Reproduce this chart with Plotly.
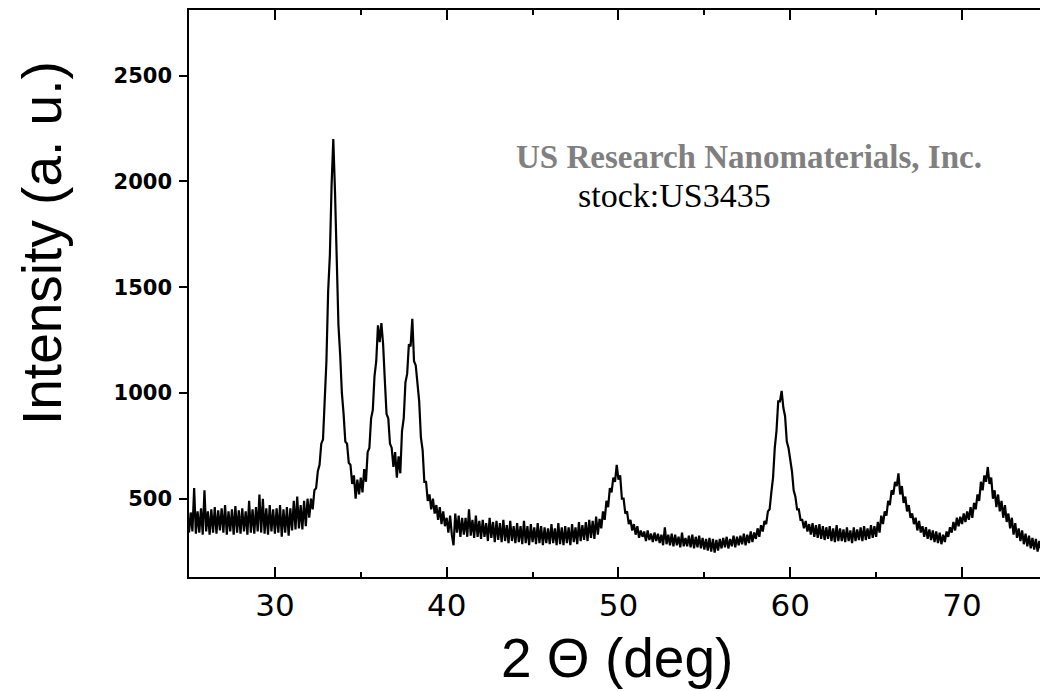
import plotly.graph_objects as go

# 2-theta sampling grid (degrees), 0.1 deg step from 25 to 75
two_theta = [round(25 + 0.1 * i, 1) for i in range(501)]

# Intensity, one row per degree (25.0 ... 25.9, 26.0 ...)
rows = [
    [340, 435, 345, 550, 335, 440, 340, 455, 330, 540],   # 25
    [345, 440, 330, 450, 340, 460, 335, 445, 350, 455],   # 26
    [340, 470, 330, 440, 345, 450, 330, 465, 340, 445],   # 27
    [335, 455, 345, 440, 330, 490, 340, 450, 335, 460],   # 28
    [345, 520, 340, 500, 335, 455, 330, 470, 345, 450],   # 29
    [335, 455, 340, 470, 320, 450, 340, 460, 325, 455],   # 30
    [350, 490, 355, 510, 360, 470, 355, 490, 370, 500],   # 31
    [410, 500, 450, 540, 550, 630, 660, 760, 780, 1000],  # 32
    [1150, 1480, 1650, 1980, 2200, 1950, 1560, 1320, 1180, 1000],  # 33
    [900, 770, 760, 670, 660, 570, 610, 500, 590, 520],   # 34
    [600, 530, 640, 580, 720, 740, 880, 920, 1080, 1150], # 35
    [1320, 1240, 1330, 1230, 1060, 900, 880, 760, 740, 650],  # 36
    [720, 600, 700, 620, 820, 880, 1050, 1090, 1230, 1220],   # 37
    [1350, 1150, 1130, 1030, 960, 790, 730, 580, 580, 490],   # 38
    [520, 450, 500, 430, 470, 400, 460, 380, 440, 370],   # 39
    [410, 340, 420, 330, 280, 430, 340, 420, 320, 410],   # 40
    [330, 410, 320, 450, 325, 400, 315, 420, 320, 395],   # 41
    [310, 400, 320, 385, 300, 410, 315, 390, 295, 395],   # 42
    [305, 385, 295, 400, 300, 375, 290, 395, 300, 370],   # 43
    [290, 385, 295, 370, 285, 395, 290, 370, 280, 380],   # 44
    [295, 365, 285, 385, 290, 370, 280, 365, 290, 360],   # 45
    [285, 380, 290, 360, 280, 385, 285, 365, 280, 370],   # 46
    [290, 365, 280, 380, 295, 365, 285, 390, 300, 375],   # 47
    [305, 390, 300, 400, 315, 395, 310, 415, 330, 405],   # 48
    [360, 440, 400, 490, 460, 550, 530, 600, 580, 660],   # 49
    [590, 610, 500, 500, 430, 440, 380, 400, 350, 380],   # 50
    [330, 370, 315, 350, 320, 345, 300, 350, 305, 335],   # 51
    [295, 340, 300, 335, 290, 330, 280, 365, 285, 330],   # 52
    [280, 335, 275, 330, 280, 320, 270, 340, 275, 315],   # 53
    [275, 325, 270, 330, 265, 320, 270, 325, 265, 315],   # 54
    [260, 310, 255, 315, 250, 310, 245, 305, 255, 310],   # 55
    [265, 315, 270, 320, 265, 310, 275, 325, 270, 320],   # 56
    [280, 325, 285, 335, 280, 330, 290, 345, 295, 340],   # 57
    [310, 360, 320, 375, 345, 395, 380, 440, 450, 530],   # 58
    [600, 740, 820, 960, 960, 1010, 930, 890, 770, 740],  # 59
    [680, 630, 540, 510, 450, 450, 400, 400, 360, 395],   # 60
    [345, 380, 330, 385, 320, 375, 315, 380, 310, 370],   # 61
    [305, 365, 310, 370, 300, 360, 295, 375, 300, 360],   # 62
    [300, 355, 295, 365, 300, 350, 290, 365, 300, 355],   # 63
    [305, 365, 300, 370, 305, 360, 310, 375, 315, 370],   # 64
    [320, 390, 340, 420, 380, 440, 420, 490, 470, 540],   # 65
    [520, 580, 560, 620, 520, 560, 480, 510, 440, 470],   # 66
    [410, 430, 380, 410, 350, 395, 340, 370, 320, 365],   # 67
    [310, 355, 305, 350, 295, 345, 290, 340, 285, 330],   # 68
    [295, 345, 320, 365, 340, 390, 350, 410, 370, 415],   # 69
    [380, 430, 390, 440, 400, 460, 410, 480, 450, 520],   # 70
    [490, 580, 540, 610, 580, 650, 570, 600, 500, 540],   # 71
    [460, 520, 440, 490, 410, 470, 390, 430, 360, 410],   # 72
    [330, 385, 315, 360, 300, 350, 285, 335, 275, 325],   # 73
    [265, 315, 260, 310, 250, 300, 260, 305, 255, 295],   # 74
    [275],                                                # 75
]
intensity = [v for row in rows for v in row]

x_ticks = [30, 40, 50, 60, 70]
y_ticks = [500, 1000, 1500, 2000, 2500]

x_title = "2 Θ (deg)"
y_title = "Intensity (a. u.)"
company = "US Research Nanomaterials, Inc."
stock = "stock:US3435"

fig = go.Figure(
    go.Scatter(x=two_theta, y=intensity, mode="lines",
               line=dict(color="black", width=2.2), hoverinfo="skip")
)

fig.update_layout(
    width=1040, height=691,
    margin=dict(l=189, r=0, t=10, b=114),
    paper_bgcolor="white", plot_bgcolor="white",
    showlegend=False,
)

fig.update_xaxes(
    range=[25, 74.54], tickvals=x_ticks, ticktext=[str(v) for v in x_ticks],
    ticks="inside", ticklen=10, tickwidth=1.5, tickcolor="black",
    showline=True, linecolor="black", linewidth=1.5, mirror="ticks",
    showgrid=False, zeroline=False,
    tickfont=dict(family="DejaVu Sans", size=31, color="black"),
    ticklabelstandoff=0,
    minor=dict(ticks="inside", ticklen=5, tickwidth=1.5, tickcolor="black",
               tickvals=[35, 45, 55, 65], showgrid=False),
)
fig.update_yaxes(
    range=[130, 2810], tickvals=y_ticks, ticktext=[str(v) for v in y_ticks],
    ticks="outside", ticklen=8, tickwidth=1.5, tickcolor="black",
    showline=True, linecolor="black", linewidth=1.5, mirror=False,
    showgrid=False, zeroline=False,
    tickfont=dict(family="DejaVu Sans", size=21, color="black", weight="bold"),
    ticklabelstandoff=3,
)

fig.add_annotation(text=y_title, xref="paper", yref="paper",
                   x=(42 - 189) / 851, y=(577 - 243) / 567,
                   xanchor="center", yanchor="middle", textangle=-90, showarrow=False,
                   font=dict(family="Liberation Sans", size=55, color="black"))
fig.add_annotation(text=x_title, xref="paper", yref="paper",
                   x=(617 - 189) / 851, y=(577 - 658) / 567,
                   xanchor="center", yanchor="middle", showarrow=False,
                   font=dict(family="Liberation Sans", size=55, color="black"))
fig.add_annotation(text=company, xref="paper", yref="paper",
                   x=(514 - 189) / 851, y=(577 - 157) / 567,
                   xanchor="left", yanchor="middle", showarrow=False,
                   font=dict(family="Liberation Serif", size=33, color="#808080", weight="bold"))
fig.add_annotation(text=stock, xref="paper", yref="paper",
                   x=(576 - 189) / 851, y=(577 - 195) / 567,
                   xanchor="left", yanchor="middle", showarrow=False,
                   font=dict(family="Liberation Serif", size=34, color="black"))

fig.write_html("out.html", config={"displayModeBar": False},
               post_script="document.body.style.margin='0px';")
